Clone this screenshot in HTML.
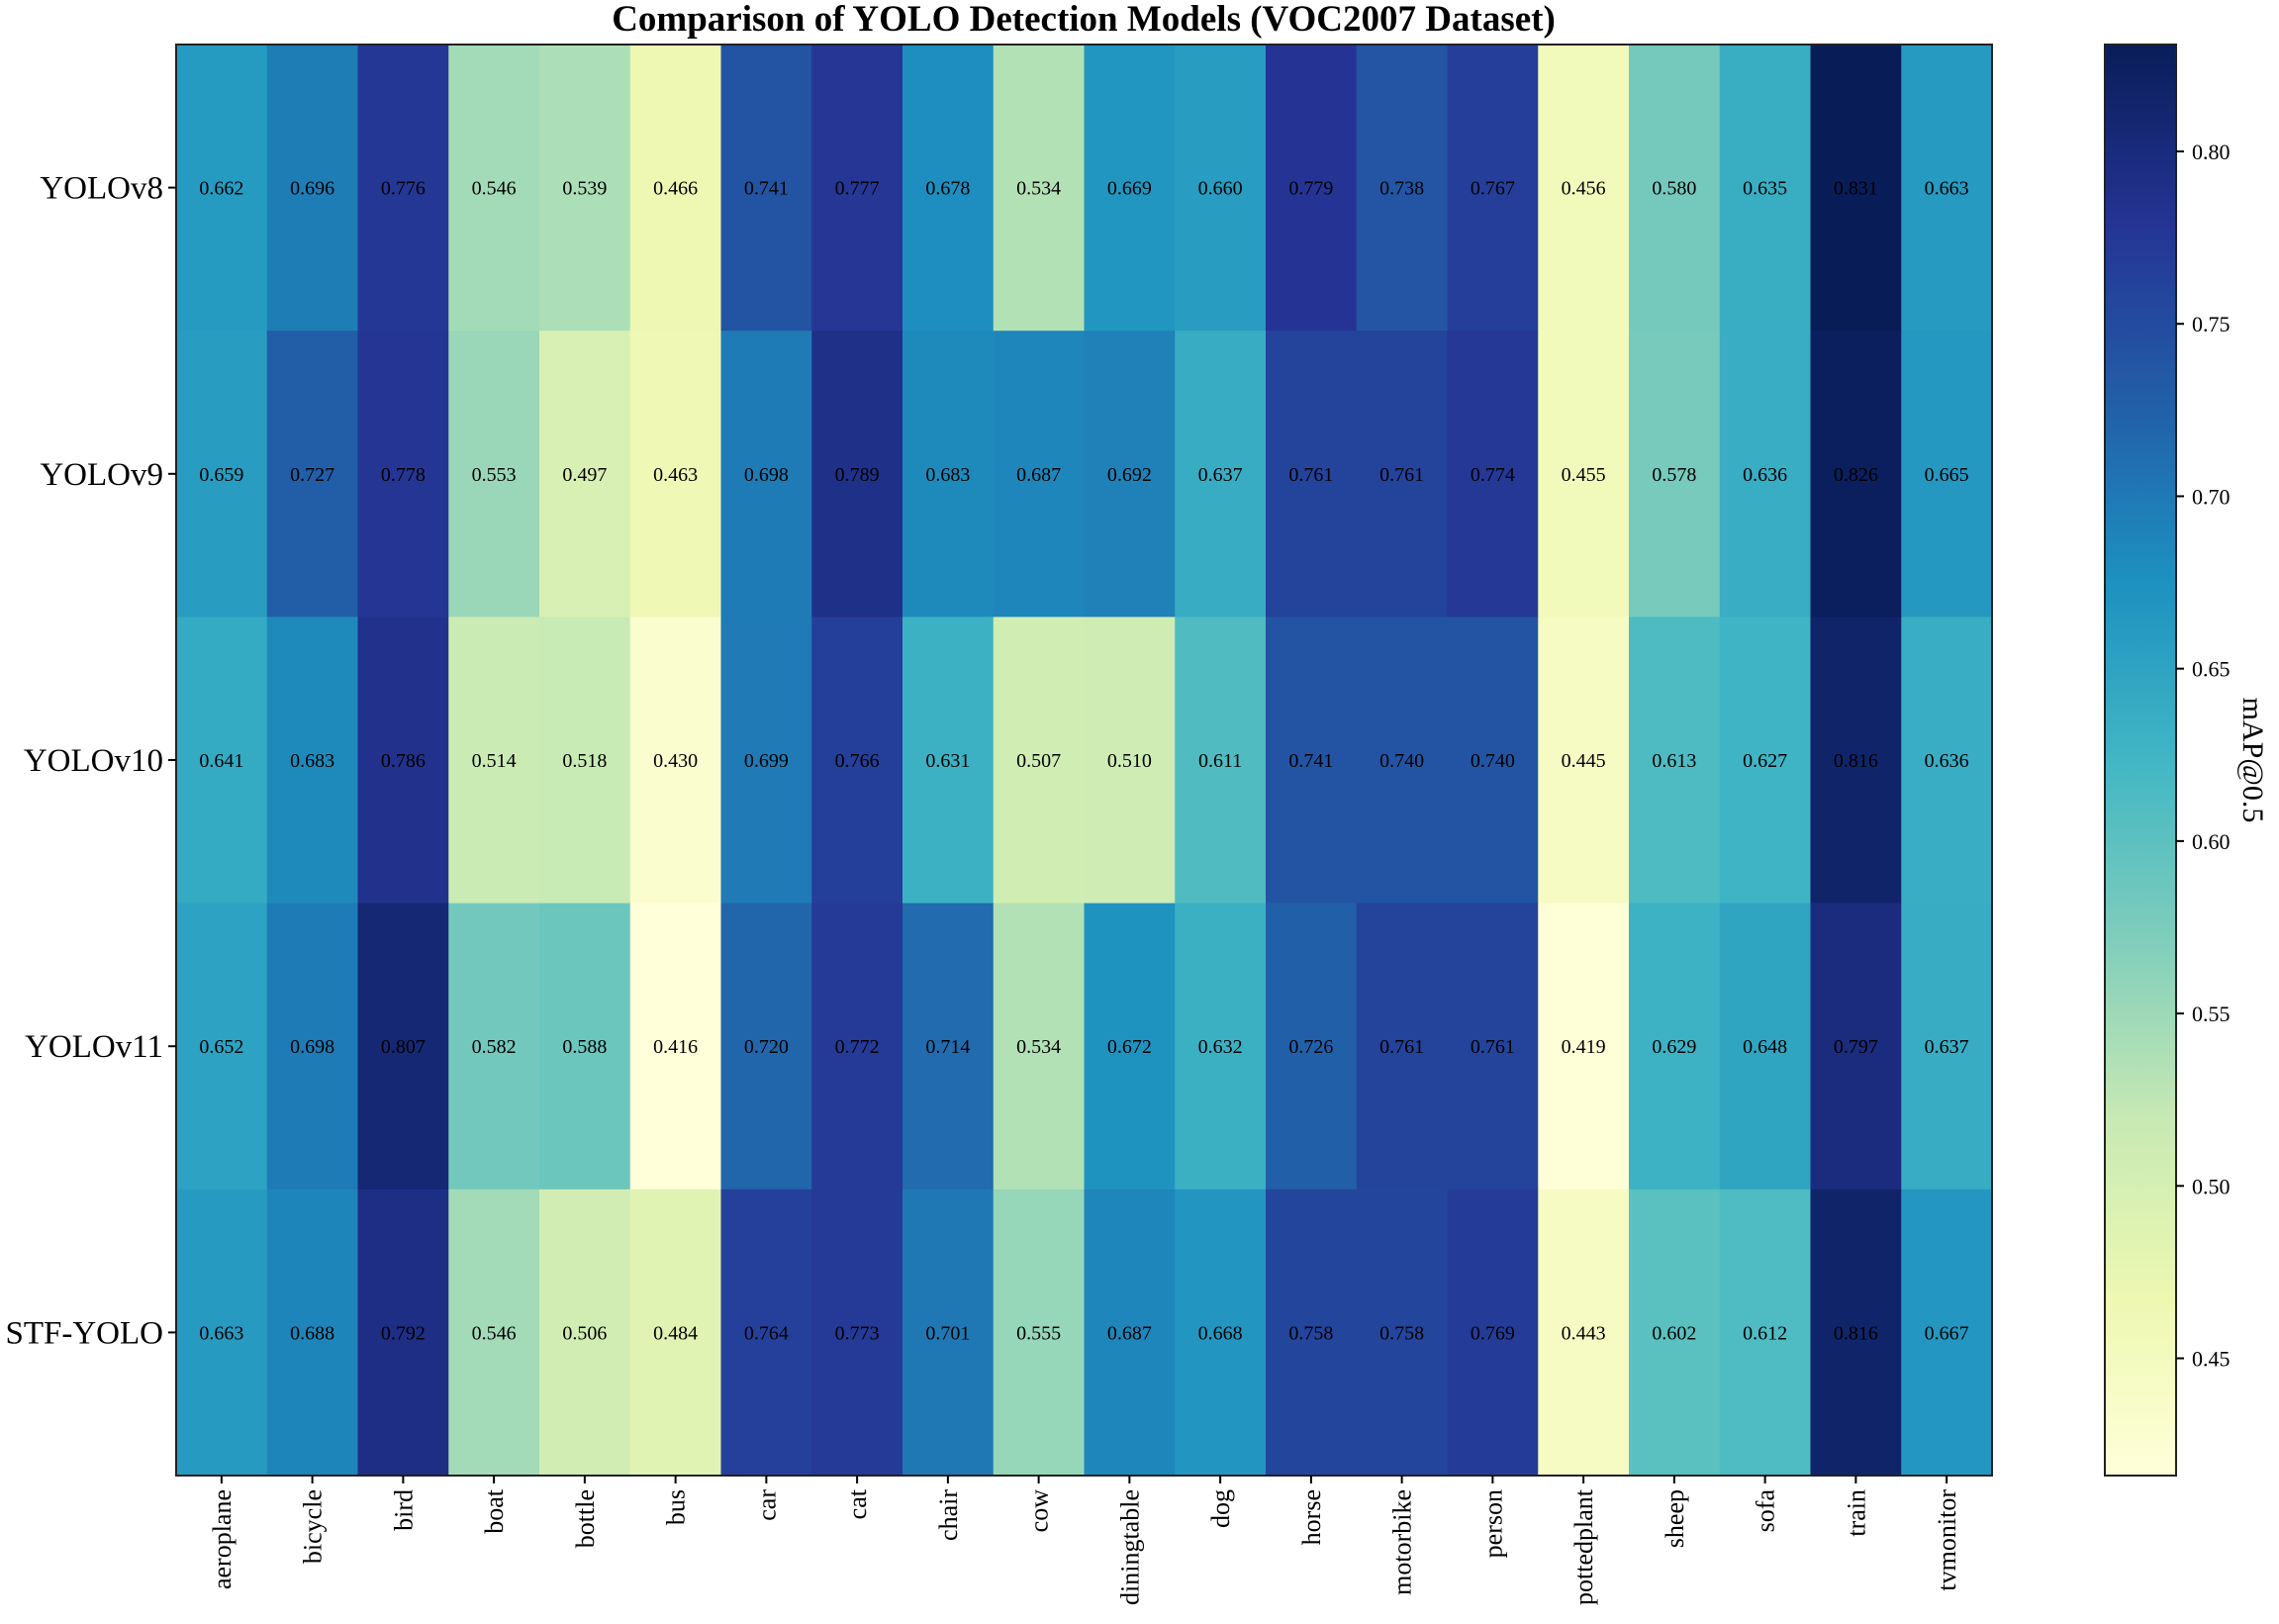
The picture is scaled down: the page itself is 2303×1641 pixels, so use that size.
<!DOCTYPE html>
<html><head><meta charset="utf-8"><style>
html,body{margin:0;padding:0;background:#fff}
svg{display:block}
text{font-family:"Liberation Serif",serif;fill:#000}
</style></head><body>
<svg id="chart" width="2303" height="1641" viewBox="0 0 2303 1641" xmlns="http://www.w3.org/2000/svg">
<defs><linearGradient id="cbgrad" x1="0" y1="1" x2="0" y2="0"></linearGradient></defs>
<text x="1095" y="31" text-anchor="middle" font-size="37" font-weight="bold">Comparison of YOLO Detection Models (VOC2007 Dataset)</text>
<g id="cells"></g><g id="axes"></g><g id="cbar"></g>
</svg>
<script>
const categories = ["aeroplane","bicycle","bird","boat","bottle","bus","car","cat","chair","cow","diningtable","dog","horse","motorbike","person","pottedplant","sheep","sofa","train","tvmonitor"];
const models = ["YOLOv8","YOLOv9","YOLOv10","YOLOv11","STF-YOLO"];
const yolov8 = [0.662,0.696,0.776,0.546,0.539,0.466,0.741,0.777,0.678,0.534,0.669,0.660,0.779,0.738,0.767,0.456,0.580,0.635,0.831,0.663];
const yolov9 = [0.659,0.727,0.778,0.553,0.497,0.463,0.698,0.789,0.683,0.687,0.692,0.637,0.761,0.761,0.774,0.455,0.578,0.636,0.826,0.665];
const yolov10 = [0.641,0.683,0.786,0.514,0.518,0.430,0.699,0.766,0.631,0.507,0.510,0.611,0.741,0.740,0.740,0.445,0.613,0.627,0.816,0.636];
const yolov11 = [0.652,0.698,0.807,0.582,0.588,0.416,0.720,0.772,0.714,0.534,0.672,0.632,0.726,0.761,0.761,0.419,0.629,0.648,0.797,0.637];
const stfyolo = [0.663,0.688,0.792,0.546,0.506,0.484,0.764,0.773,0.701,0.555,0.687,0.668,0.758,0.758,0.769,0.443,0.602,0.612,0.816,0.667];
const colorTicks = [0.45,0.50,0.55,0.60,0.65,0.70,0.75,0.80];
const series = [yolov8,yolov9,yolov10,yolov11,stfyolo];

const NS="http://www.w3.org/2000/svg";
const L=178,R=2013,T=45,B=1491;
const all=series.flat();
const vmin=Math.min(...all), vmax=Math.max(...all);
const stops=["#ffffd9","#edf8b1","#c7e9b4","#7fcdbb","#41b6c4","#1d91c0","#225ea8","#253494","#081d58"];
function hex(h){return [1,3,5].map(i=>parseInt(h.substr(i,2),16));}
function cmap(v){let t=(v-vmin)/(vmax-vmin);t=Math.max(0,Math.min(1,t))*(stops.length-1);
 const i=Math.min(Math.floor(t),stops.length-2),f=t-i;const a=hex(stops[i]),b=hex(stops[i+1]);
 return "rgb("+a.map((x,k)=>Math.round(x+(b[k]-x)*f)).join(",")+")";}
const cw=(R-L)/categories.length, ch=(B-T)/models.length;
const xs=i=>L+i*cw, ys=j=>T+j*ch;
function mk(tag,attrs,parent,txt){const e=document.createElementNS(NS,tag);for(const k in attrs)e.setAttribute(k,attrs[k]);if(txt!==undefined)e.textContent=txt;parent.appendChild(e);return e;}
const cells=document.getElementById('cells'), axes=document.getElementById('axes'), cbar=document.getElementById('cbar');
series.forEach((row,j)=>{row.forEach((v,i)=>{
 const r=mk('rect',{x:xs(i),y:ys(j),width:cw+0.5,height:ch+0.5,fill:cmap(v)},cells);
 
 
 const t=mk('text',{x:xs(i)+cw/2,y:ys(j)+ch/2+7,'text-anchor':'middle','font-size':20},cells,v.toFixed(3));
 
 
});});
const fr=mk('rect',{x:L,y:T,width:R-L,height:B-T,fill:'none',stroke:'#222','stroke-width':2},axes);


models.forEach((m,j)=>{const y=ys(j)+ch/2;
 mk('line',{x1:L-8,x2:L,y1:y,y2:y,stroke:'#000','stroke-width':2},axes);
 const t=mk('text',{x:L-13,y:y+11,'text-anchor':'end','font-size':33},axes,m);
 
 
});
categories.forEach((c,i)=>{const x=xs(i)+cw/2;
 mk('line',{x1:x,x2:x,y1:B,y2:B+8,stroke:'#000','stroke-width':2},axes);
 const t=mk('text',{x:0,y:0,'text-anchor':'end','font-size':26,transform:`translate(${x+9},${B+14}) rotate(-90)`},axes,c);
 
 
});
const CL=2127,CR=2199;
const g=document.getElementById('cbgrad');
for(let k=0;k<=40;k++){const v=vmin+(vmax-vmin)*k/40;mk('stop',{offset:k/40,'stop-color':cmap(v)},g);}
const cb=mk('rect',{x:CL,y:T,width:CR-CL,height:B-T,fill:'url(#cbgrad)',stroke:'#222','stroke-width':2},cbar);


const cy=v=>B-(v-vmin)/(vmax-vmin)*(B-T);
colorTicks.forEach(v=>{const y=cy(v);
 mk('line',{x1:CR,x2:CR+8,y1:y,y2:y,stroke:'#000','stroke-width':2},cbar);
 const t=mk('text',{x:CR+16,y:y+8,'font-size':22},cbar,v.toFixed(2));
 
 
});
const cl=mk('text',{x:0,y:0,'text-anchor':'middle','font-size':30,transform:`translate(2267,${(T+B)/2}) rotate(90)`},cbar,'mAP@0.5');


</script>
</body></html>
